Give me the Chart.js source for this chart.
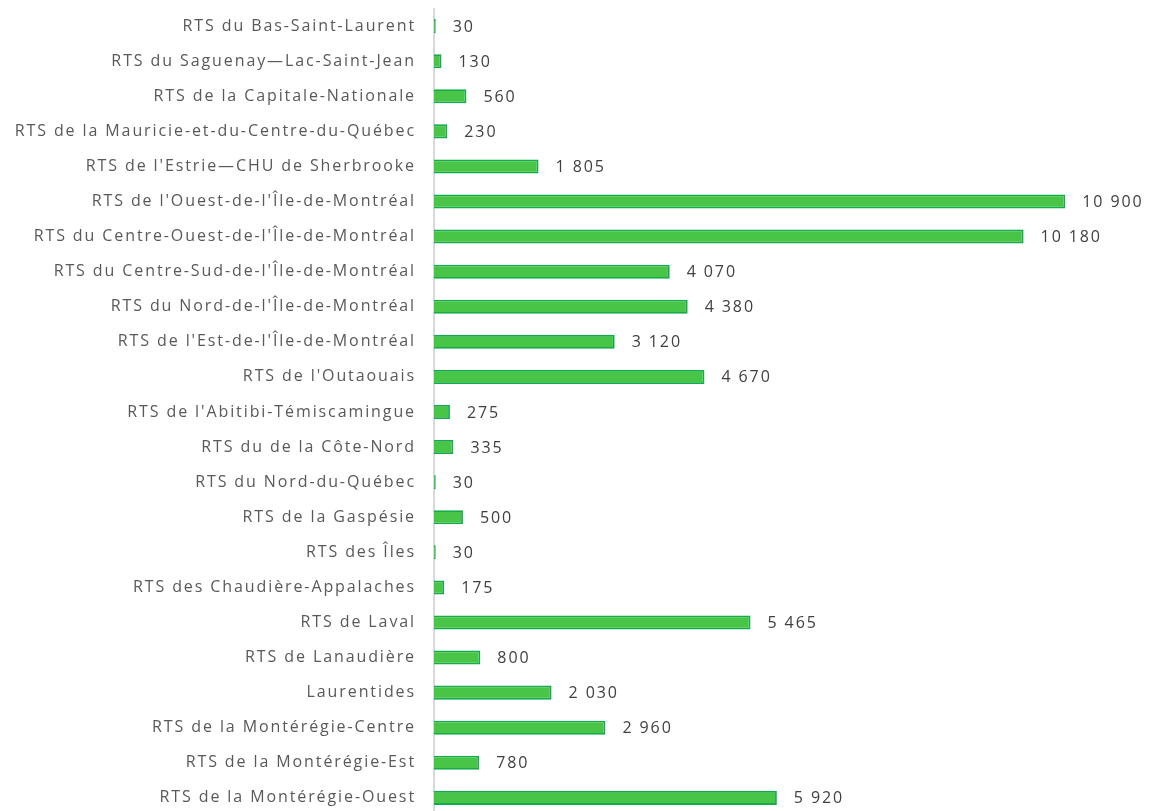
<!DOCTYPE html>
<html>
<head>
<meta charset="utf-8">
<script src="https://cdn.jsdelivr.net/npm/chart.js@4/dist/chart.umd.min.js"></script>
<style>
  html, body { margin: 0; padding: 0; background: #fff; overflow: hidden; }
  #outer { width: 1152px; height: 811px; position: relative; overflow: hidden; }
  #wrap { width: 1152px; height: 846px; position: absolute; left: 0; top: -11.2px; }
</style>
</head>
<body>
<div id="outer"><div id="wrap"><canvas id="c"></canvas></div></div>
<script>
const categories = [
  "RTS du Bas-Saint-Laurent",
  "RTS du Saguenay\u2014Lac-Saint-Jean",
  "RTS de la Capitale-Nationale",
  "RTS de la Mauricie-et-du-Centre-du-Qu\u00e9bec",
  "RTS de l'Estrie\u2014CHU de Sherbrooke",
  "RTS de l'Ouest-de-l'\u00cele-de-Montr\u00e9al",
  "RTS du Centre-Ouest-de-l'\u00cele-de-Montr\u00e9al",
  "RTS du Centre-Sud-de-l'\u00cele-de-Montr\u00e9al",
  "RTS du Nord-de-l'\u00cele-de-Montr\u00e9al",
  "RTS de l'Est-de-l'\u00cele-de-Montr\u00e9al",
  "RTS de l'Outaouais",
  "RTS de l'Abitibi-T\u00e9miscamingue",
  "RTS du de la C\u00f4te-Nord",
  "RTS du Nord-du-Qu\u00e9bec",
  "RTS de la Gasp\u00e9sie",
  "RTS des \u00celes",
  "RTS des Chaudi\u00e8re-Appalaches",
  "RTS de Laval",
  "RTS de Lanaudi\u00e8re",
  "Laurentides",
  "RTS de la Mont\u00e9r\u00e9gie-Centre",
  "RTS de la Mont\u00e9r\u00e9gie-Est",
  "RTS de la Mont\u00e9r\u00e9gie-Ouest"
];
const values = [30, 130, 560, 230, 1805, 10900, 10180, 4070, 4380, 3120, 4670,
  275, 335, 30, 500, 30, 175, 5465, 800, 2030, 2960, 780, 5920];

const fmt = v => v.toString().replace(/\B(?=(\d{3})+(?!\d))/g, " ");

// espacement des lettres comme dans Excel
const spacing = {
  id: 'spacing',
  beforeLayout(chart) { chart.ctx.letterSpacing = '1.9px'; },
  beforeDraw(chart) { chart.ctx.letterSpacing = '1.9px'; }
};

// étiquettes de valeur à droite des barres
const valueLabels = {
  id: 'valueLabels',
  afterDatasetsDraw(chart) {
    const ctx = chart.ctx;
    const meta = chart.getDatasetMeta(0);
    ctx.save();
    ctx.letterSpacing = '1.9px';
    ctx.font = '16px "Open Sans"';
    ctx.fillStyle = '#404040';
    ctx.textBaseline = 'middle';
    ctx.textAlign = 'left';
    meta.data.forEach((bar, i) => {
      ctx.fillText(fmt(values[i]), bar.x + 17, bar.y + 1);
    });
    ctx.restore();
  }
};

new Chart(document.getElementById('c'), {
  type: 'bar',
  data: {
    labels: categories,
    datasets: [{
      data: values,
      backgroundColor: '#48c446',
      borderColor: '#10ad4a',
      borderWidth: 1.8,
      borderSkipped: 'start',
      barPercentage: 0.4,
      categoryPercentage: 1
    }]
  },
  options: {
    indexAxis: 'y',
    responsive: true,
    maintainAspectRatio: false,
    animation: false,
    layout: { padding: { top: 7.5, bottom: 7.4, left: 0, right: 23 } },
    plugins: { legend: { display: false }, tooltip: { enabled: false } },
    scales: {
      x: { display: false, min: 0, max: 12000 },
      y: {
        grid: { display: false },
        border: { display: true, color: '#d9d9d9', width: 2 },
        ticks: {
          color: '#595959',
          font: { family: 'Open Sans', size: 16 },
          padding: 10
        },
        afterFit(scale) { scale.width = 434; }
      }
    }
  },
  plugins: [spacing, valueLabels]
});
</script>
</body>
</html>
